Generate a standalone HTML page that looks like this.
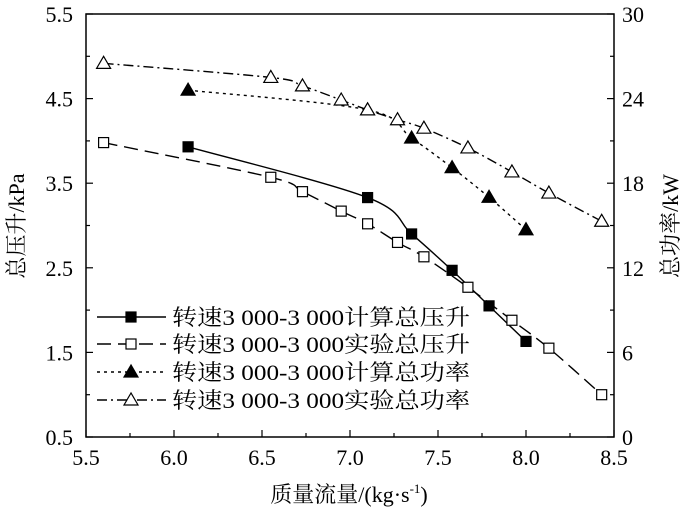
<!DOCTYPE html>
<html><head><meta charset="utf-8"><style>
body{margin:0;background:#fff}
</style></head><body>
<svg id="chart" width="700" height="511" font-family="Liberation Serif, Noto Serif CJK SC, serif"></svg>
<script>
const pcX=[6.08,7.1,7.35,7.58,7.79,8.0];
const pcY=[3.93,3.33,2.9,2.47,2.05,1.63];
const peX=[5.6,6.55,6.73,6.95,7.1,7.27,7.42,7.67,7.92,8.13,8.43];
const peY=[3.98,3.57,3.4,3.17,3.02,2.8,2.63,2.27,1.88,1.55,1.0];
const wcX=[6.08,7.1,7.35,7.58,7.79,8.0];
const wcY=[24.6,23.2,21.2,19.1,17.0,14.7];
const weX=[5.6,6.55,6.73,6.95,7.1,7.27,7.42,7.67,7.92,8.13,8.43];
const weY=[26.5,25.5,24.9,23.9,23.2,22.5,21.9,20.5,18.8,17.3,15.3];
const xTicks=["5.5","6.0","6.5","7.0","7.5","8.0","8.5"];
const yTicks=["0.5","1.5","2.5","3.5","4.5","5.5"];
const y2Ticks=["0","6","12","18","24","30"];
const legendLabels=["转速3 000-3 000计算总压升","转速3 000-3 000实验总压升","转速3 000-3 000计算总功率","转速3 000-3 000实验总功率"];

const L=86,R=614,T=14,B=437;
const FF='"Liberation Serif","Noto Serif CJK SC",serif';
const sx=v=>L+(v-5.5)/3*(R-L);
const sy=v=>B-(v-0.5)/5*(B-T);
const sy2=v=>B-v/30*(B-T);
const svg=document.getElementById('chart');
const NS='http://www.w3.org/2000/svg';
function mk(tag,at,parent){const e=document.createElementNS(NS,tag);for(const k in at)e.setAttribute(k,at[k]);if(tag==='text')e.style.fontFamily=FF;(parent||svg).appendChild(e);return e;}
function smooth(pts){let d='M'+pts[0][0]+','+pts[0][1];for(let i=0;i<pts.length-1;i++){const p0=pts[Math.max(0,i-1)],p1=pts[i],p2=pts[i+1],p3=pts[Math.min(pts.length-1,i+2)];const c1=[p1[0]+(p2[0]-p0[0])/6,p1[1]+(p2[1]-p0[1])/6],c2=[p2[0]-(p3[0]-p1[0])/6,p2[1]-(p3[1]-p1[1])/6];d+=' C'+c1+' '+c2+' '+p2;}return d;}

let f=mk('rect',{x:L,y:T,width:R-L,height:B-T,fill:'none',stroke:'#000','stroke-width':1.5});


for(let i=0;i<=12;i++){const x=sx(5.5+i*0.25),len=i%2?4:7;
 mk('line',{x1:x,y1:B,x2:x,y2:B-len,stroke:'#000','stroke-width':1.2});}
xTicks.forEach(t=>{const e=mk('text',{x:sx(+t),y:B+28,'font-size':22,'text-anchor':'middle'});e.textContent=t;
 
 });
for(let i=0;i<=10;i++){const y=sy(0.5+i*0.5),len=i%2?4:7;
 mk('line',{x1:L,y1:y,x2:L+len,y2:y,stroke:'#000','stroke-width':1.2});
 mk('line',{x1:R,y1:y,x2:R-len,y2:y,stroke:'#000','stroke-width':1.2});}
yTicks.forEach(t=>{const e=mk('text',{x:L-13,y:sy(+t)+8,'font-size':22,'text-anchor':'end'});e.textContent=t;
 
 });
y2Ticks.forEach(t=>{const e=mk('text',{x:R+8,y:sy2(+t)+8,'font-size':22,'text-anchor':'start'});e.textContent=t;
 
 });
let t1=mk('text',{x:349,y:502,'font-size':22,'text-anchor':'middle'});t1.innerHTML='质量流量/(kg·s<tspan font-size="13" dy="-9">-1</tspan><tspan dy="9">)</tspan>';


let t2=mk('text',{x:0,y:0,'font-size':22,'text-anchor':'middle',transform:'translate(24,226) rotate(-90)'});t2.textContent='总压升/kPa';


let t3=mk('text',{x:0,y:0,'font-size':22,'text-anchor':'middle',transform:'translate(678,226) rotate(-90)'});t3.textContent='总功率/kW';



const styles=[{dash:'',fill:'#000',shape:'sq'},{dash:'14,7',fill:'#fff',shape:'sq'},{dash:'3,4',fill:'#000',shape:'tri'},{dash:'10,4,2,4',fill:'#fff',shape:'tri'}];
function marker(x,y,s,name){let e;if(s.shape==='sq')e=mk('rect',{x:x-5,y:y-5,width:10,height:10,fill:s.fill,stroke:'#000','stroke-width':1.2});
 else e=mk('polygon',{points:`${x},${y-7} ${x-7},${y+5} ${x+7},${y+5}`,fill:s.fill,stroke:'#000','stroke-width':1.2});
 
 }
const series=[[pcX,pcY,sy,'calc-pressure'],[peX,peY,sy,'exp-pressure'],[wcX,wcY,sy2,'calc-power'],[weX,weY,sy2,'exp-power']];
series.forEach((s,i)=>{const pts=s[0].map((x,j)=>[sx(x),s[2](s[1][j])]);
 const p=mk('path',{d:smooth(pts),fill:'none',stroke:'#000','stroke-width':1.4,'stroke-dasharray':styles[i].dash});
 
 
 pts.forEach(q=>marker(q[0],q[1],styles[i],s[3]+'-point'));});
const ly=[317,344,372,400];
legendLabels.forEach((lab,i)=>{const g=mk('g',{});
 
 
 mk('line',{x1:97,y1:ly[i],x2:166,y2:ly[i],stroke:'#000','stroke-width':1.4,'stroke-dasharray':styles[i].dash},g);
 marker(131,ly[i],styles[i],'legend-marker');
 const t=mk('text',{x:172,y:ly[i]+8,'font-size':22,textLength:298,lengthAdjust:'spacingAndGlyphs'},g);t.textContent=lab;});
</script>
</body></html>
